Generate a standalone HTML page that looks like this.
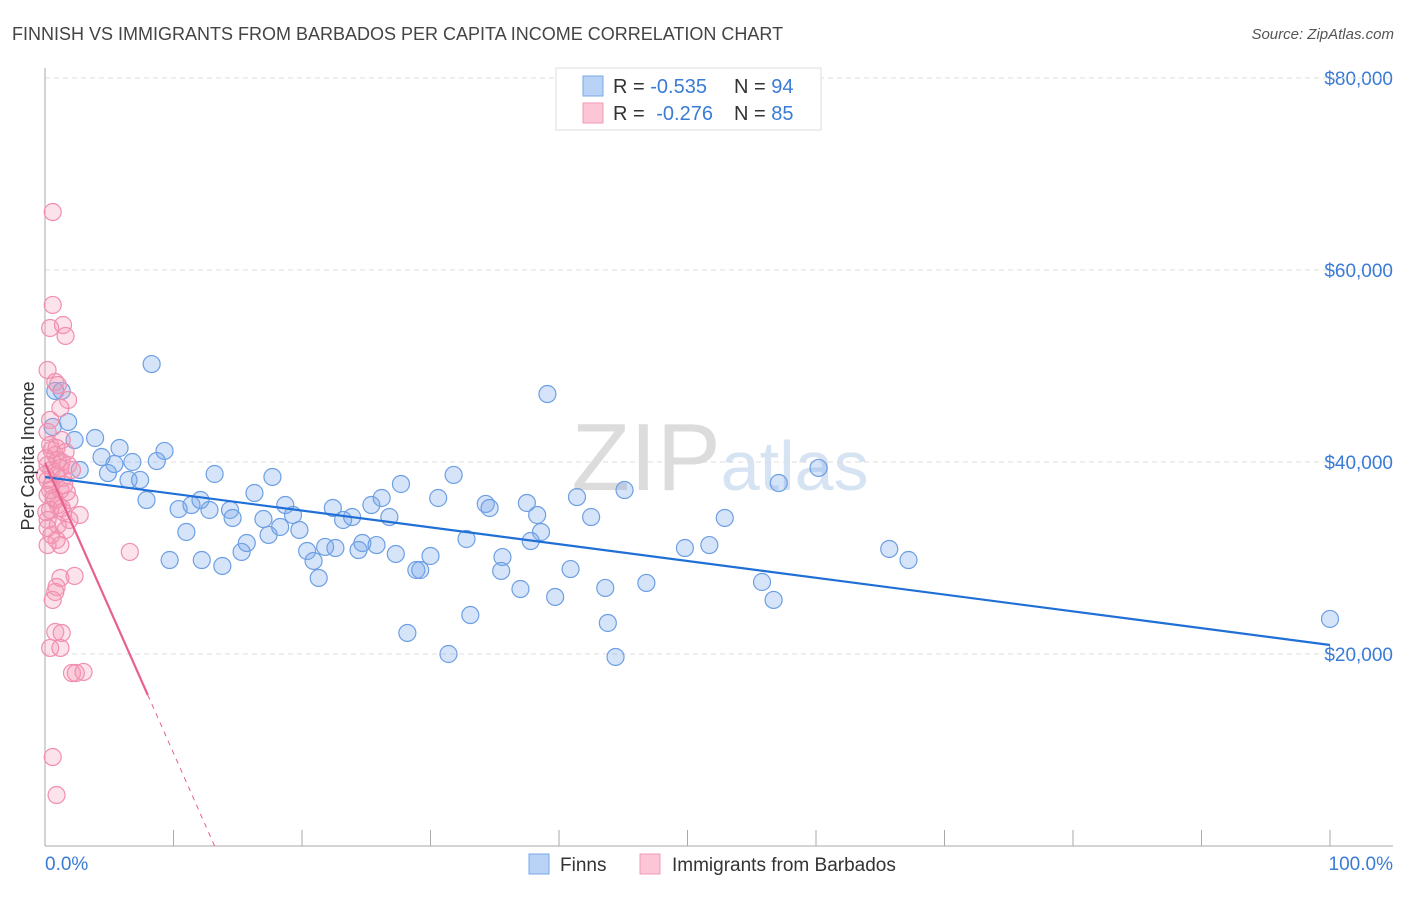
<!DOCTYPE html>
<html><head><meta charset="utf-8"><style>
body{margin:0;background:#fff;font-family:"Liberation Sans",sans-serif}
svg text{font-family:"Liberation Sans",sans-serif}
</style></head><body>
<svg id="chart" width="1406" height="892">
<text x="12" y="40" font-size="18" fill="#444">FINNISH VS IMMIGRANTS FROM BARBADOS PER CAPITA INCOME CORRELATION CHART</text>
<text x="1394" y="39" font-size="15" fill="#555" font-style="italic" text-anchor="end">Source: ZipAtlas.com</text>
<text x="720" y="490" font-size="96" fill="#e4e4e4" text-anchor="middle" font-family="Liberation Serif"><tspan fill="#dcdcdc">ZIP</tspan><tspan fill="#d6e3f3" font-family="Liberation Sans" font-size="70">atlas</tspan></text>
<g id="grid"></g>
<g id="axes"></g>
<g id="points"></g>
<g id="trends"></g>
<text transform="translate(34,456) rotate(-90)" font-size="18" fill="#333" text-anchor="middle">Per Capita Income</text>
<text x="45" y="870" font-size="19" fill="#3a7bd5">0.0%</text>
<text x="1393" y="870" font-size="19" fill="#3a7bd5" text-anchor="end">100.0%</text>
<g>
<rect x="556" y="68" width="265" height="62" fill="#fff" stroke="#ddd"/>
<rect x="583" y="76" width="20" height="20" fill="#b8d3f5" stroke="#7aa8e6"/>
<rect x="583" y="103" width="20" height="20" fill="#fcc6d6" stroke="#f09ab5"/>
<text x="613" y="93" font-size="20" fill="#333">R = <tspan fill="#3a7bd5">-0.535</tspan><tspan x="734">N = </tspan><tspan fill="#3a7bd5">94</tspan></text>
<text x="613" y="120" font-size="20" fill="#333">R = <tspan fill="#3a7bd5" dx="6">-0.276</tspan><tspan x="734">N = </tspan><tspan fill="#3a7bd5">85</tspan></text>
</g>
<g>
<rect x="529" y="854" width="20" height="20" fill="#b8d3f5" stroke="#7aa8e6"/>
<text x="560" y="871" font-size="19" fill="#333">Finns</text>
<rect x="640" y="854" width="20" height="20" fill="#fcc6d6" stroke="#f09ab5"/>
<text x="672" y="871" font-size="19" fill="#333">Immigrants from Barbados</text>
</g>
</svg>
<script>
const yTicks=[20000,40000,60000,80000];
const yTickLabels=["$20,000","$40,000","$60,000","$80,000"];
const xTicks=[0,10,20,30,40,50,60,70,80,90,100];
const finnsX=[8.3,39.1,0.8,1.3,1.8,0.6,3.9,2.3,5.8,9.3,4.4,8.7,6.8,5.4,2.7,4.9,6.5,7.4,13.2,17.7,7.9,10.4,11.4,12.1,12.8,14.4,14.6,11.0,16.3,17.0,17.4,18.7,18.3,19.3,19.8,22.4,23.2,23.9,25.4,26.2,26.8,27.7,30.6,31.8,34.3,34.6,37.5,38.3,38.6,37.8,41.4,42.5,45.1,52.9,57.1,60.2,65.7,67.2,100,9.7,12.2,13.8,15.3,15.7,20.4,20.9,21.3,21.8,22.6,24.4,24.7,25.8,27.3,28.9,29.2,30.0,32.8,35.6,35.5,37.0,39.7,40.9,43.6,46.8,49.8,51.7,55.8,56.7,28.2,33.1,31.4,43.8,44.4];
const finnsY=[50200,47080,47400,47400,44170,43650,42500,42290,41460,41150,40520,40100,40000,39790,39170,38850,38130,38130,38750,38440,36040,35100,35520,36040,35000,35000,34170,32710,36770,34060,32400,35520,33230,34480,32920,35210,33960,34270,35520,36250,34270,37710,36250,38650,35630,35210,35730,34480,32710,31770,36350,34270,37080,34170,37810,39380,30940,29790,23650,29790,29790,29170,30630,31560,30730,29690,27920,31150,31040,30830,31560,31350,30420,28750,28750,30210,31980,30100,28650,26770,25940,28850,26880,27400,31040,31350,27500,25630,22190,24060,20000,23230,19690];
const barbX=[0.6,0.6,0.4,1.4,1.6,0.2,0.8,1.0,1.8,1.2,0.4,0.2,1.3,0.5,0.8,1.0,1.3,1.8,0.2,0.5,0.9,1.4,0.2,0.5,1.2,0.2,0.8,1.9,1.0,0.4,1.4,2.7,0.2,1.0,1.6,0.5,0.2,6.6,1.2,2.3,0.9,0.8,0.6,0.8,1.3,0.4,1.2,2.1,2.4,3.0,0.6,0.9,0.4,0.9,1.6,0.1,1.2,2.1,0.0,1.5,0.4,1.7,0.7,1.3,0.1,1.9,0.9,0.2,1.2];
const barbY=[66040,56360,53960,54270,53130,49580,48330,48020,46460,45630,44380,43130,42290,41250,40730,40210,40000,39690,39690,39170,38650,38330,38130,37610,37080,36560,36040,36040,35520,35000,34790,34480,33960,33440,32920,32400,33130,30630,27920,28130,26980,26460,25630,22290,22190,20630,20630,18020,18020,18130,9270,5310,41770,41460,41040,40420,39380,39170,38650,37610,37080,36880,36250,35210,34790,33960,31880,31350,31350];
const finnsTrend=[[0,38440],[100,20940]];
const barbTrendSolid=[[0,39900],[8.0,15730]];
const barbTrendDash=[[8.0,15730],[13.2,0]];

const NS="http://www.w3.org/2000/svg";
const X0=45,X1=1330,Y0=846,YPER=192/20000;
const sx=v=>X0+(X1-X0)*v/100;
const sy=v=>Y0-v*YPER;
function mk(tag,attrs,parent){const e=document.createElementNS(NS,tag);for(const k in attrs)e.setAttribute(k,attrs[k]);parent.appendChild(e);return e;}
const grid=document.getElementById('grid'),axes=document.getElementById('axes'),pts=document.getElementById('points'),tr=document.getElementById('trends');
yTicks.forEach((t,i)=>{
  const l=mk('line',{x1:45,x2:1393,y1:sy(t),y2:sy(t),stroke:'#ddd','stroke-dasharray':'5,4'},grid);
  
  
  const tx=mk('text',{x:1393,y:sy(t)+7,'font-size':19,fill:'#3a7bd5','text-anchor':'end'},grid);
  tx.textContent=yTickLabels[i];
  
  
});
const topLine=mk('line',{x1:45,x2:1393,y1:78,y2:78,stroke:'#ddd','stroke-dasharray':'5,4'},grid);


const ya=mk('line',{x1:45,x2:45,y1:68,y2:846,stroke:'#aaa'},axes);


const xa=mk('line',{x1:45,x2:1393,y1:846,y2:846,stroke:'#aaa'},axes);


xTicks.forEach(t=>{
  const l=mk('line',{x1:sx(t),x2:sx(t),y1:830,y2:846,stroke:'#aaa'},axes);
  
  
});
finnsX.forEach((x,i)=>{
  const c=mk('circle',{cx:sx(x),cy:sy(finnsY[i]),r:8.5,fill:'rgba(120,165,235,0.3)',stroke:'#6d9fe3','stroke-width':1.2},pts);
  
  
});
barbX.forEach((x,i)=>{
  const c=mk('circle',{cx:sx(x),cy:sy(barbY[i]),r:8.5,fill:'rgba(245,150,180,0.28)',stroke:'#f08fb0','stroke-width':1.2},pts);
  
  
});
const fl=mk('line',{x1:sx(finnsTrend[0][0]),y1:sy(finnsTrend[0][1]),x2:sx(finnsTrend[1][0]),y2:sy(finnsTrend[1][1]),stroke:'#1f6fd6','stroke-width':2.2},tr);


const bl=mk('line',{x1:sx(barbTrendSolid[0][0]),y1:sy(barbTrendSolid[0][1]),x2:sx(barbTrendSolid[1][0]),y2:sy(barbTrendSolid[1][1]),stroke:'#e8608e','stroke-width':2.2},tr);


const bd=mk('line',{x1:sx(barbTrendDash[0][0]),y1:sy(barbTrendDash[0][1]),x2:sx(barbTrendDash[1][0]),y2:sy(barbTrendDash[1][1]),stroke:'#e8608e','stroke-width':1,'stroke-dasharray':'5,5'},tr);


</script>
</body></html>
